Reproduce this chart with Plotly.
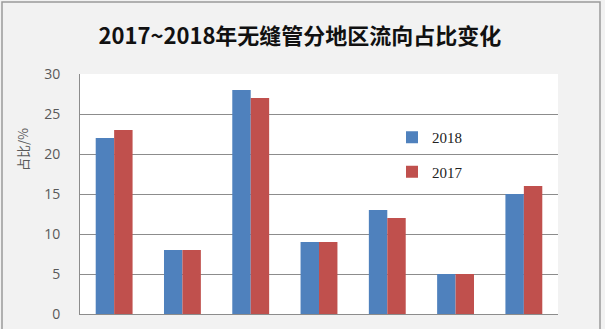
import plotly.graph_objects as go

categories = ["华东", "华北", "中南", "东北", "西南", "西北", "出口"]
values_2018 = [22, 8, 28, 9, 13, 5, 15]
values_2017 = [23, 8, 27, 9, 12, 5, 16]
y_ticks = [0, 5, 10, 15, 20, 25, 30]

W, H = 605, 329
L, R, T, B = 80, 558, 74, 314
pw, ph = R - L, B - T

def px(x):
    return (x - L) / pw

def py(y):
    return (B - y) / ph

fig = go.Figure()
fig.add_trace(go.Bar(name="2018", x=categories, y=values_2018, marker_color="#4f81bd",
                     marker_line_width=0, legendgroup="a"))
fig.add_trace(go.Bar(name="2017", x=categories, y=values_2017, marker_color="#c0504d",
                     marker_line_width=0, legendgroup="b"))

fig.update_layout(
    width=W, height=H,
    margin=dict(l=L, r=W - R, t=T, b=H - B, pad=0),
    paper_bgcolor="#f2f2f2",
    plot_bgcolor="#ffffff",
    barmode="group",
    bargap=0.46,
    bargroupgap=0,
    showlegend=True,
    legend=dict(x=px(392), y=py(121), xanchor="left", yanchor="top",
                bgcolor="rgba(0,0,0,0)", font=dict(family="Liberation Serif", size=15, color="#222"),
                tracegroupgap=12, itemwidth=30),
    title=dict(text="<b>2017~2018年无缝管分地区流向占比变化</b>", x=px(317), xanchor="center",
               y=1 - 36 / H, yanchor="middle",
               font=dict(family="Noto Sans CJK SC", size=22, color="#111")),
    font=dict(family="Noto Sans CJK SC"),
)
fig.update_yaxes(range=[0, 30], tickvals=y_ticks, showgrid=True, gridcolor="#8c8c8c", gridwidth=1,
                 showline=True, linecolor="#8c8c8c", linewidth=1, zeroline=False,
                 ticklabelstandoff=16, automargin=False,
                 tickfont=dict(family="Open Sans", size=14, color="#595959"))
fig.update_xaxes(showline=True, linecolor="#8c8c8c", linewidth=1, ticks="",
                 ticklabelstandoff=10, automargin=False,
                 tickfont=dict(family="Noto Sans CJK SC", size=13, color="#595959"))

fig.add_annotation(text="占比/%", xref="paper", yref="paper", x=px(22), y=py(150),
                   textangle=-90, showarrow=False, xanchor="center", yanchor="middle",
                   font=dict(family="Noto Sans CJK SC", size=13, color="#595959"))

fig.add_shape(type="rect", xref="paper", yref="paper", x0=px(2), x1=px(600), y0=py(345), y1=py(2),
              line=dict(color="#9a9a9a", width=1.5), fillcolor="rgba(0,0,0,0)", layer="below")

fig.write_html("out.html")
